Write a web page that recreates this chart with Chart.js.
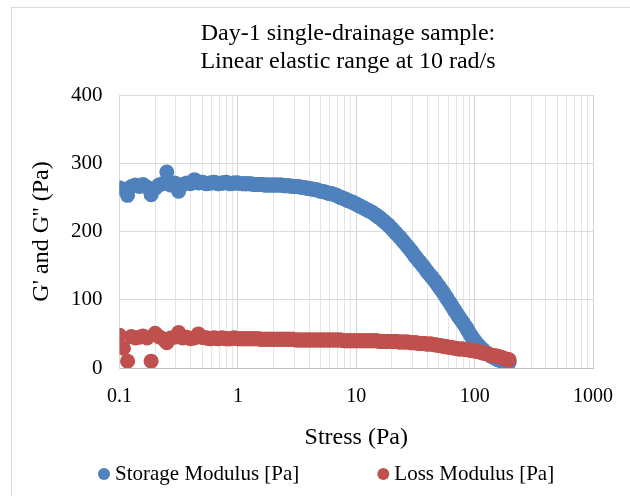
<!DOCTYPE html>
<html>
<head>
<meta charset="utf-8">
<script src="https://cdn.jsdelivr.net/npm/chart.js@4.4.1/dist/chart.umd.min.js"></script>
<style>
    body { margin: 0; background: #ffffff; }
    .wrap { position: relative; width: 630px; height: 496px; overflow: hidden; }
    .frame { position: absolute; left: 11px; top: 7px; width: 700px; height: 600px; border: 1px solid #d9d9d9; }
    #myChart { position: absolute; left: 0; top: 0; }
</style>
</head>
<body>
<div class="wrap">
    <div class="frame"></div>
    <canvas id="myChart" width="630" height="496"></canvas>
</div>
<script>
var titleLines = ["Day-1 single-drainage sample:", "Linear elastic range at 10 rad/s"];
var xTitle = "Stress (Pa)";
var yTitle = "G' and G'' (Pa)";
var seriesNames = ["Storage Modulus [Pa]", "Loss Modulus [Pa]"];
var xTickValues = [0.1, 1, 10, 100, 1000];
var xTickLabels = ["0.1", "1", "10", "100", "1000"];

// stress (Pa)
var stress = [
    0.100, 0.108, 0.117, 0.126, 0.136, 0.147, 0.158, 0.171, 0.185, 0.200,
    0.215, 0.232, 0.251, 0.271, 0.293, 0.316, 0.341, 0.369, 0.398, 0.430,
    0.464, 0.501, 0.541, 0.584, 0.631, 0.681, 0.736, 0.794, 0.858, 0.926,
    1.00, 1.08, 1.17, 1.26, 1.36, 1.47, 1.58, 1.71, 1.85, 2.00,
    2.15, 2.32, 2.51, 2.71, 2.93, 3.16, 3.41, 3.69, 3.98, 4.30,
    4.64, 5.01, 5.41, 5.84, 6.31, 6.81, 7.36, 7.94, 8.58, 9.26,
    10.0, 10.8, 11.7, 12.6, 13.6, 14.7, 15.8, 17.1, 18.5, 20.0,
    21.5, 23.2, 25.1, 27.1, 29.3, 31.6, 34.1, 36.9, 39.8, 43.0,
    46.4, 50.1, 54.1, 58.4, 63.1, 68.1, 73.6, 79.4, 85.8, 92.6,
    100, 108, 117, 126, 136, 147, 158, 171, 185, 195
];

var storageModulus = [
    264, 262, 253, 266, 268, 266, 269, 265, 254, 263,
    268, 270, 287, 268, 271, 259, 269, 271, 270, 276,
    271, 272, 270, 271, 272, 270, 271, 272, 270, 271,
    271, 270, 270, 270, 269, 269, 269, 268, 268, 268,
    268, 268, 267, 267, 266, 266, 265, 264, 263, 262,
    261, 259, 258, 256, 255, 253, 250, 248, 245, 243,
    240, 237, 234, 231, 228, 224, 220, 215, 210, 204,
    198, 192, 185, 178, 171, 163, 156, 149, 141, 134,
    127, 119, 111, 102, 93, 84, 75, 67, 58, 48,
    40, 33, 27, 22, 18, 15, 12, 10, 9, 8
];

var lossModulus = [
    48, 29, 10, 46, 44, 45, 47, 44, 10, 51,
    46, 43, 37, 44, 45, 52, 44, 45, 43, 44,
    50, 45, 44, 43, 44, 43, 44, 43, 43, 44,
    43, 43, 43, 43, 43, 43, 42, 42, 42, 42,
    42, 42, 42, 42, 42, 41, 41, 41, 41, 41,
    41, 41, 41, 41, 41, 41, 41, 40, 40, 40,
    40, 40, 40, 40, 40, 40, 39, 39, 39, 39,
    39, 38, 38, 38, 37, 37, 36, 36, 35, 35,
    34, 33, 32, 31, 30, 29, 28, 28, 27, 26,
    25, 24, 22, 21, 19, 18, 17, 15, 13, 12
];

var toPoints = (xs, ys) => {
    let data = [];
    for (let i = 0; i < xs.length; i++) {
        data.push({ x: xs[i], y: ys[i] });
    }
    return data;
}

// markers overlap into a solid band; below 0.5 Pa they stay loose dots
var bandSegment = (c) => c.p0.parsed.x < 0.5 ? 'rgba(0,0,0,0)' : undefined;

// legend spacing and title offset as in the original layout
var layoutFix = {
    id: 'layoutFix',
    afterLayout: (chart) => {
        const lg = chart.legend;
        lg.left = 20;
        lg.right = 700;
        lg.top = 474 - 10.5 - 83.5;
        const tb = chart.titleBlock;
        tb.left = 103;
        tb.right = 593;
    }
}

window.onload = () => {
    Chart.defaults.font.family = "'Liberation Serif', 'Times New Roman', serif";
    Chart.defaults.color = '#000000';

    const ctx = document.getElementById('myChart').getContext('2d');
    const blue = 'rgb(79, 129, 189)';
    const red = 'rgb(192, 80, 77)';

    const makeSet = (label, ys, color, order) => {
        return {
            label: label,
            data: toPoints(stress, ys),
            backgroundColor: color,
            borderColor: color,
            showLine: true,
            borderWidth: 15,
            borderCapStyle: 'round',
            borderJoinStyle: 'round',
            segment: { borderColor: bandSegment },
            pointRadius: 7.5,
            pointBorderWidth: 0,
            order: order
        };
    }

    new Chart(ctx, {
        type: 'scatter',
        data: {
            datasets: [
                makeSet(seriesNames[0], storageModulus, blue, 2),
                makeSet(seriesNames[1], lossModulus, red, 1)
            ]
        },
        plugins: [layoutFix],
        options: {
            responsive: false,
            animation: false,
            layout: { padding: { left: 0, top: 0, right: 37, bottom: 0 } },
            scales: {
                x: {
                    type: 'logarithmic',
                    position: 'bottom',
                    min: 0.1,
                    max: 1000,
                    afterBuildTicks: (scale) => {
                        let ticks = [];
                        for (let i = 0; i < xTickValues.length - 1; i++) {
                            for (let k = 1; k < 10; k++) {
                                ticks.push({ value: xTickValues[i] * k });
                            }
                        }
                        ticks.push({ value: xTickValues[xTickValues.length - 1] });
                        scale.ticks = ticks;
                    },
                    afterFit: (scale) => { scale.height = 100; },
                    ticks: {
                        autoSkip: false,
                        maxRotation: 0,
                        padding: 17,
                        font: { size: 20 },
                        callback: (value) => {
                            for (let i = 0; i < xTickValues.length; i++) {
                                if (Math.abs(value - xTickValues[i]) < xTickValues[i] * 1e-6) {
                                    return xTickLabels[i];
                                }
                            }
                            return '';
                        }
                    },
                    grid: {
                        drawTicks: false,
                        color: (c) => {
                            const v = c.tick ? c.tick.value : 0;
                            const isMajor = xTickValues.some(t => Math.abs(v - t) < t * 1e-6);
                            return isMajor ? '#d4d4d4' : '#e4e4e4';
                        }
                    },
                    border: { color: '#bfbfbf' },
                    title: {
                        display: true,
                        text: xTitle,
                        font: { size: 24 },
                        padding: { top: 0, bottom: 15.6 }
                    }
                },
                y: {
                    min: 0,
                    max: 400,
                    afterFit: (scale) => { scale.width = 119.5; },
                    ticks: {
                        stepSize: 100,
                        padding: 17,
                        font: { size: 21 }
                    },
                    grid: { drawTicks: false, color: '#d9d9d9' },
                    border: { color: '#d9d9d9' },
                    title: {
                        display: true,
                        text: yTitle,
                        font: { size: 24 },
                        padding: { top: 27.6, bottom: 0 }
                    }
                }
            },
            plugins: {
                title: {
                    display: true,
                    text: titleLines,
                    font: { size: 24, weight: 'normal' },
                    padding: { top: 19, bottom: 18.4 }
                },
                legend: {
                    position: 'bottom',
                    align: 'start',
                    maxHeight: 28,
                    labels: {
                        usePointStyle: true,
                        pointStyle: 'circle',
                        boxWidth: 1,
                        boxHeight: 8.5,
                        padding: 83.5,
                        font: { size: 21 },
                        sort: (a, b) => a.datasetIndex - b.datasetIndex
                    }
                },
                tooltip: { enabled: false }
            }
        }
    });
}
</script>
</body>
</html>
